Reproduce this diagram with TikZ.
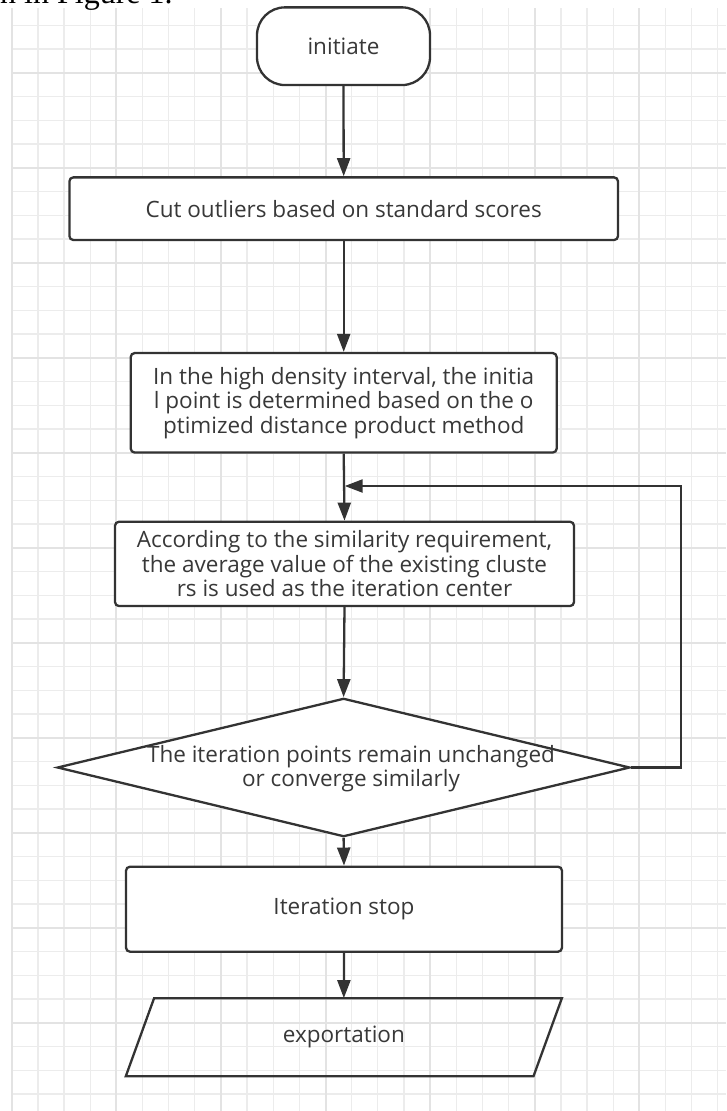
\documentclass[tikz,border=0pt]{standalone}
\usepackage{fontspec}
\usetikzlibrary{arrows.meta,shapes.geometric,calc}
\newfontfamily\boxfont{Open Sans}
\newfontfamily\serf{Liberation Serif}
\definecolor{lc}{HTML}{333333}
\definecolor{tc}{HTML}{383838}
\definecolor{gminor}{HTML}{ECECEC}
\definecolor{gmajor}{HTML}{E3E3E3}
\tikzset{
  flowbox/.style={draw=lc, line width=2.3pt, rounded corners=4pt, fill=white, inner sep=0pt, text=tc, align=center, font=\boxfont\fontsize{22.5}{24.5}\selectfont},
  conn/.style={draw=lc, line width=2.3pt, -{Triangle[length=18pt,width=13pt]}},
  plain/.style={draw=lc, line width=2.3pt},
  txt/.style={text=tc, align=center, inner sep=0pt, font=\boxfont\fontsize{22.5}{24.5}\selectfont},
}
\begin{document}
\begin{tikzpicture}[x=1pt,y=-1pt]
\useasboundingbox (0,0) rectangle (726,1111);
\fill[white] (0,0) rectangle (726,1111);
% grid
\foreach \i in {0,...,27}{\draw[gminor, line width=1.3pt] (11.7+26.15*\i,8) -- (11.7+26.15*\i,1111);}
\foreach \j in {-2,...,43}{\draw[gminor, line width=1.3pt] (11.7,72.7+23.75*\j) -- (726,72.7+23.75*\j);}
\foreach \i in {0,4,...,24}{\draw[gmajor, line width=2pt] (11.7+26.15*\i,8) -- (11.7+26.15*\i,1111);}
\foreach \m in {0,...,10}{\draw[gmajor, line width=2pt] (11.7,72.7+95*\m) -- (726,72.7+95*\m);}
% caption fragment
\node[anchor=base west, inner sep=0pt, font=\serf\fontsize{32}{36}\selectfont] (cap) at (0,3) {n in Figure 1.};
% nodes
\node[flowbox, rounded corners=28pt, minimum width=173pt, minimum height=77.7pt] (init) at (343.5,46.2) {initiate};
\node[flowbox, minimum width=548.6pt, minimum height=62.7pt] (cut) at (343.7,208.7) {Cut outliers based on standard scores};
\node[flowbox, minimum width=426pt, minimum height=99.5pt] (dens) at (343.7,402.8) {In the high density interval, the initia\\l point is determined based on the o\\ptimized distance product method};
\node[flowbox, minimum width=459pt, minimum height=84.3pt] (avg) at (344.5,563.9) {According to the similarity requirement,\\ the average value of the existing cluste\\rs is used as the iteration center};
\node[diamond, draw=lc, line width=2.3pt, fill=white, inner sep=0pt, minimum width=572.7pt, minimum height=138.4pt] (dec) at (343.6,767.5) {};
\node[txt] (dectxt) at (351,768.5) {The iteration points remain unchanged\\or converge similarly};
\node[flowbox, minimum width=436pt, minimum height=85pt] (stop) at (344,909.2) {Iteration stop};
\node[txt, minimum width=435.7pt, minimum height=77.7pt] (exp) at (343.85,1037.2) {exportation};
\draw[plain, line join=miter] ($(exp.north west)+(28.3,0)$) -- (exp.north east) -- ($(exp.south east)+(-28.4,0)$) -- (exp.south west) -- cycle;
% connectors
\coordinate (join) at (343.7,486);
\coordinate (rt) at (681,767.5);
\draw[conn] (init.south) -- (cut.north);
\draw[conn] (cut.south) -- (dens.north);
\draw[conn] (dens.south) -- (avg.north);
\draw[conn] (avg.south) -- (dec.north);
\draw[conn] (dec.south) -- (stop.north);
\draw[conn] (stop.south) -- (exp.north);
\draw[conn, shorten >=1pt] (dec.east) -- (rt) |- (join);
\end{tikzpicture}
\end{document}
